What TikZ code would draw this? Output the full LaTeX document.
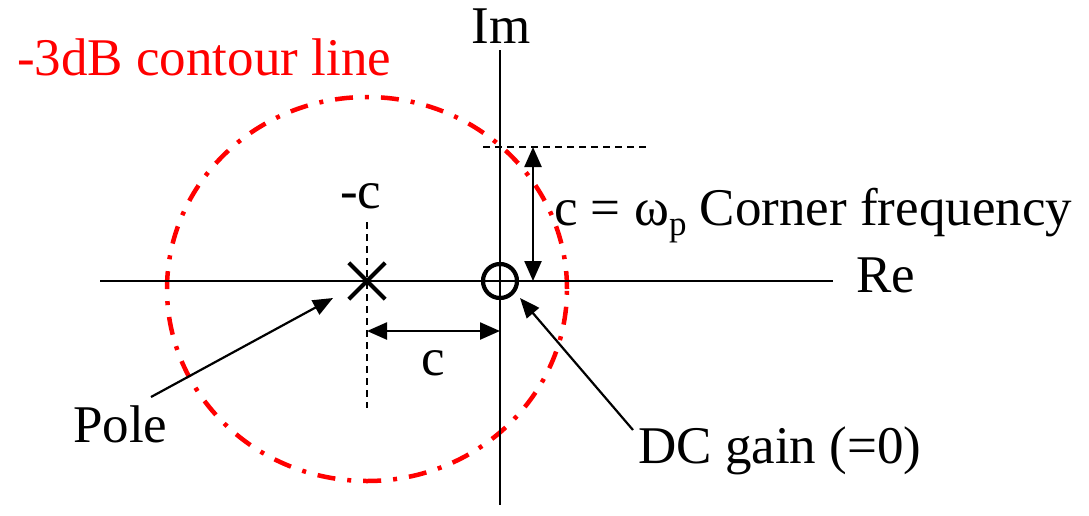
\documentclass[tikz,border=0pt]{standalone}
\usepackage{fontspec}
\setmainfont{Liberation Serif}
\usetikzlibrary{arrows.meta}
\begin{document}
\begin{tikzpicture}[x=1pt,y=-1pt,
  lbl/.style={font=\fontsize{53}{60}\selectfont, inner sep=0pt, anchor=base west},
  axis/.style={line width=2.2pt},
  guide/.style={line width=2pt, dash pattern=on 7pt off 5pt},
  arr/.style={line width=2.2pt, -{Triangle[length=20pt,width=16pt]}},
  darr/.style={line width=2.4pt, {Triangle[length=20pt,width=17pt]}-{Triangle[length=20pt,width=17pt]}},
  contour/.style={draw=red, line width=4.5pt, dash pattern=on 18pt off 12pt on 4pt off 12pt}]
\useasboundingbox (0,0) rectangle (1089,515);
% contour
\draw[contour] (367,289) ellipse [x radius=200pt, y radius=192pt];
% axes
\coordinate (reL) at (100,281);
\coordinate (reR) at (833,281);
\coordinate (imT) at (500,50);
\coordinate (imB) at (500,505);
\draw[axis] (reL) -- (reR);
\draw[axis] (imT) -- (imB);
% zero and pole
\node[circle, draw, line width=4.2pt, minimum size=34pt, inner sep=0pt] (zero) at (500,281) {};
\node[inner sep=0pt, minimum size=36pt] (pole) at (367,281) {};
\draw[line width=4.2pt] (pole.north west) -- (pole.south east) (pole.north east) -- (pole.south west);
% guides
\coordinate (gvT) at (367,222);
\coordinate (gvB) at (367,408);
\draw[guide] (gvT) -- (gvB);
\coordinate (ghL) at (483,147);
\coordinate (ghR) at (648,147);
\draw[guide] (ghL) -- (ghR);
% dimension arrows
\coordinate (cL) at (367,331);
\coordinate (cR) at (500,331);
\draw[darr] (cL) -- (cR);
\coordinate (wT) at (533,147);
\coordinate (wB) at (533,281);
\draw[darr] (wT) -- (wB);
% labels
\node[lbl, anchor=base] (im) at (501,43) {Im};
\node[lbl] (re) at (856,292) {Re};
\node[lbl, text=red] (contourlbl) at (17,75) {-3dB contour line};
\node[lbl] (mc) at (340,208) {-c};
\node[lbl, anchor=base] (clbl) at (433,375) {c};
\node[lbl] (wlbl) at (554,225) {c = ω\raisebox{-10pt}{\fontsize{35}{35}\selectfont p} Corner frequency};
\node[lbl] (polelbl) at (73,442) {Pole};
\node[lbl] (dclbl) at (638,463) {DC gain (=0)};
% pointer arrows
\coordinate (pa) at (151,397);
\coordinate (pt) at (333,298);
\draw[arr] (pa) -- (pt);
\coordinate (da) at (633,430);
\coordinate (dt) at (520,298);
\draw[arr] (da) -- (dt);
\end{tikzpicture}
\end{document}
